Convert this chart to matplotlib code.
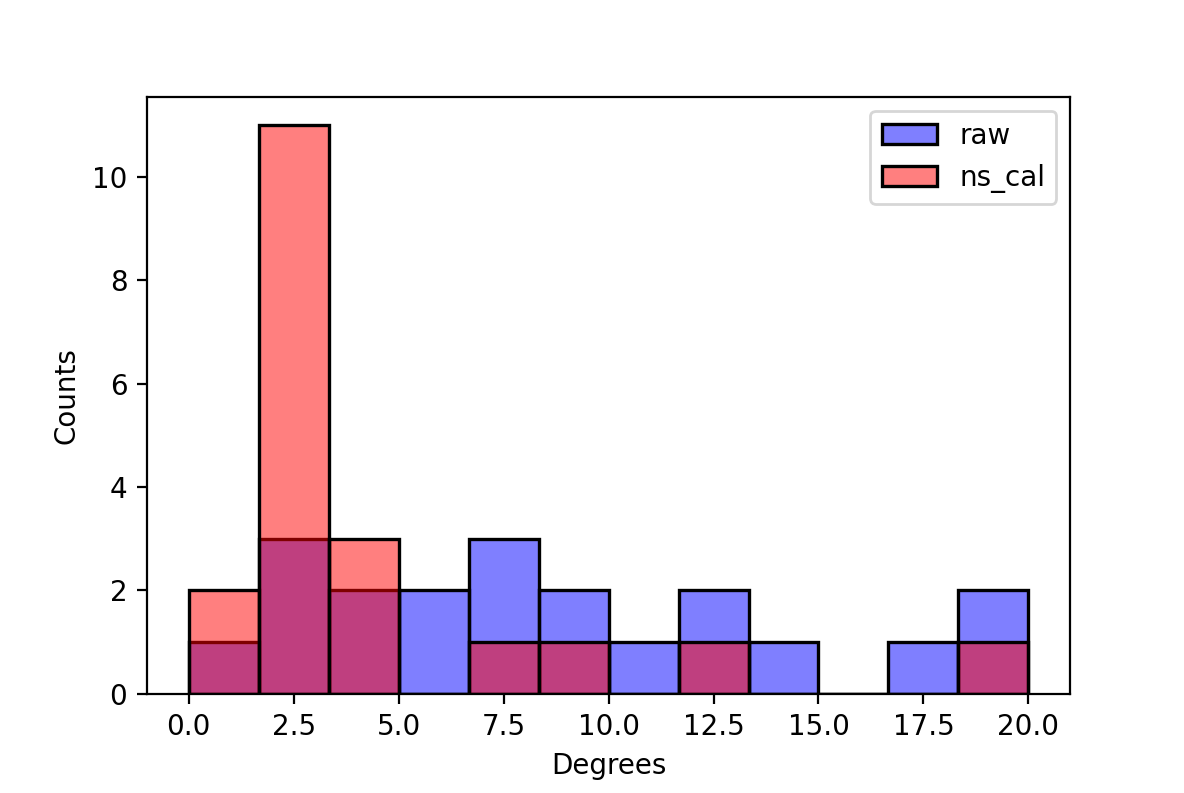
import numpy as np
import matplotlib
matplotlib.use('Agg')
import matplotlib.pyplot as plt

# histogram counts per bin (12 equal bins between 0 and 20 degrees)
bin_lo = 0.0
bin_hi = 20.0
n_bins = 12
raw_counts = [1, 3, 2, 2, 3, 2, 1, 2, 1, 0, 1, 2]
ns_cal_counts = [2, 11, 3, 0, 1, 1, 0, 1, 0, 0, 0, 1]

edges = np.linspace(bin_lo, bin_hi, n_bins + 1)
centers = (edges[:-1] + edges[1:]) / 2

fig = plt.figure(figsize=(5.92, 3.965), dpi=200)
ax = fig.add_subplot(111)
fig.subplots_adjust(left=0.124, right=0.904, top=0.878, bottom=0.125)

# face is see-through, edges stay solid black
ax.hist(centers, bins=edges, weights=raw_counts, facecolor=(0, 0, 1, 0.5),
        edgecolor='black', linewidth=1.2, label='raw')
ax.hist(centers, bins=edges, weights=ns_cal_counts, facecolor=(1, 0, 0, 0.5),
        edgecolor='black', linewidth=1.2, label='ns_cal')

ax.set_xlabel('Degrees')
ax.set_ylabel('Counts')
ax.legend()

plt.savefig('out.png', dpi=200)
